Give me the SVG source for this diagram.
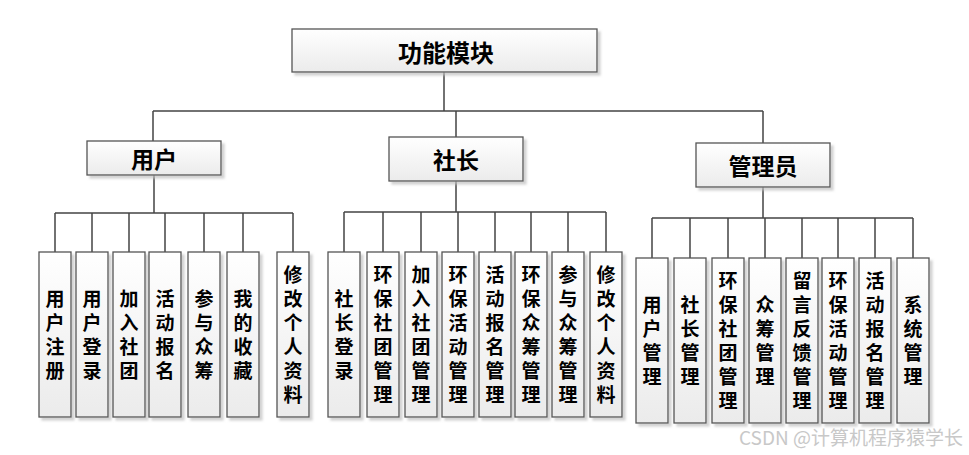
<svg xmlns="http://www.w3.org/2000/svg" width="969" height="455" viewBox="0 0 969 455">
<style>
.box{fill:url(#g);stroke:#555;stroke-width:1.3;filter:url(#sh)}
.t{font-family:"Noto Sans CJK SC","Noto Sans",sans-serif;fill:#000;font-weight:bold;text-anchor:middle;dominant-baseline:central}
.h1{font-size:24px}
.h2{font-size:23px}
.lf{font-size:19px;writing-mode:vertical-rl;letter-spacing:5px}
.con{fill:none;stroke:#444;stroke-width:1.5}
.wm{font-family:"Noto Sans CJK SC","Liberation Sans",sans-serif;font-size:19px;fill:#c8c8c8;text-anchor:end}
</style>
<defs>
<linearGradient id="g" x1="0" y1="0" x2="0" y2="1">
<stop offset="0" stop-color="#ffffff"/>
<stop offset="1" stop-color="#ebebeb"/>
</linearGradient>
<filter id="sh" x="-20%" y="-20%" width="150%" height="150%">
<feDropShadow dx="3" dy="3" stdDeviation="1" flood-color="#c0c0c0" flood-opacity="0.7"/>
</filter>
</defs>
<g id="connectors" class="con">
<path d="M444 72V111M153 111H763M153 111V141M456 111V137M763 111V143"/>
<path d="M154 175V213M55 213H293M55 213V252M92 213V252M129 213V252M165 213V252M204 213V252M243 213V252M293 213V252"/>
<path d="M456 181V212M344 212H606M344 212V252M383 212V252M421 212V252M458 212V252M495 212V252M531 212V252M568 212V252M606 212V252"/>
<path d="M763 187V218M652 218H913M652 218V258M690 218V258M728 218V258M765 218V258M802 218V258M838 218V258M875 218V258M913 218V258"/>
</g>
<g id="root"><rect class="box" x="292" y="29" width="305" height="43"/><text class="t h1" x="446" y="51">功能模块</text></g>
<g id="user"><rect class="box" x="87" y="141" width="134" height="34"/><text class="t h2" x="154" y="158">用户</text></g>
<g id="leader"><rect class="box" x="389" y="137" width="134" height="44"/><text class="t h2" x="456" y="159">社长</text></g>
<g id="admin"><rect class="box" x="696" y="143" width="134" height="44"/><text class="t h2" x="763" y="165">管理员</text></g>

<g id="u1"><rect class="box" x="39" y="252" width="32" height="165"/><text class="t lf" x="55" y="337">用户注册</text></g>
<g id="u2"><rect class="box" x="76" y="252" width="32" height="165"/><text class="t lf" x="92" y="337">用户登录</text></g>
<g id="u3"><rect class="box" x="113" y="252" width="32" height="165"/><text class="t lf" x="129" y="337">加入社团</text></g>
<g id="u4"><rect class="box" x="149" y="252" width="32" height="165"/><text class="t lf" x="165" y="337">活动报名</text></g>
<g id="u5"><rect class="box" x="188" y="252" width="32" height="165"/><text class="t lf" x="204" y="337">参与众筹</text></g>
<g id="u6"><rect class="box" x="227" y="252" width="32" height="165"/><text class="t lf" x="243" y="337">我的收藏</text></g>
<g id="u7"><rect class="box" x="277" y="252" width="32" height="165"/><text class="t lf" x="293" y="337">修改个人资料</text></g>

<g id="l1"><rect class="box" x="328" y="252" width="32" height="165"/><text class="t lf" x="344" y="337">社长登录</text></g>
<g id="l2"><rect class="box" x="367" y="252" width="32" height="165"/><text class="t lf" x="383" y="337">环保社团管理</text></g>
<g id="l3"><rect class="box" x="405" y="252" width="32" height="165"/><text class="t lf" x="421" y="337">加入社团管理</text></g>
<g id="l4"><rect class="box" x="442" y="252" width="32" height="165"/><text class="t lf" x="458" y="337">环保活动管理</text></g>
<g id="l5"><rect class="box" x="479" y="252" width="32" height="165"/><text class="t lf" x="495" y="337">活动报名管理</text></g>
<g id="l6"><rect class="box" x="515" y="252" width="32" height="165"/><text class="t lf" x="531" y="337">环保众筹管理</text></g>
<g id="l7"><rect class="box" x="552" y="252" width="32" height="165"/><text class="t lf" x="568" y="337">参与众筹管理</text></g>
<g id="l8"><rect class="box" x="590" y="252" width="32" height="165"/><text class="t lf" x="606" y="337">修改个人资料</text></g>

<g id="a1"><rect class="box" x="636" y="258" width="32" height="165"/><text class="t lf" x="652" y="343">用户管理</text></g>
<g id="a2"><rect class="box" x="674" y="258" width="32" height="165"/><text class="t lf" x="690" y="343">社长管理</text></g>
<g id="a3"><rect class="box" x="712" y="258" width="32" height="165"/><text class="t lf" x="728" y="343">环保社团管理</text></g>
<g id="a4"><rect class="box" x="749" y="258" width="32" height="165"/><text class="t lf" x="765" y="343">众筹管理</text></g>
<g id="a5"><rect class="box" x="786" y="258" width="32" height="165"/><text class="t lf" x="802" y="343">留言反馈管理</text></g>
<g id="a6"><rect class="box" x="822" y="258" width="32" height="165"/><text class="t lf" x="838" y="343">环保活动管理</text></g>
<g id="a7"><rect class="box" x="859" y="258" width="32" height="165"/><text class="t lf" x="875" y="343">活动报名管理</text></g>
<g id="a8"><rect class="box" x="897" y="258" width="32" height="165"/><text class="t lf" x="913" y="343">系统管理</text></g>

<text class="wm" x="963" y="445">CSDN @计算机程序猿学长</text>
</svg>
